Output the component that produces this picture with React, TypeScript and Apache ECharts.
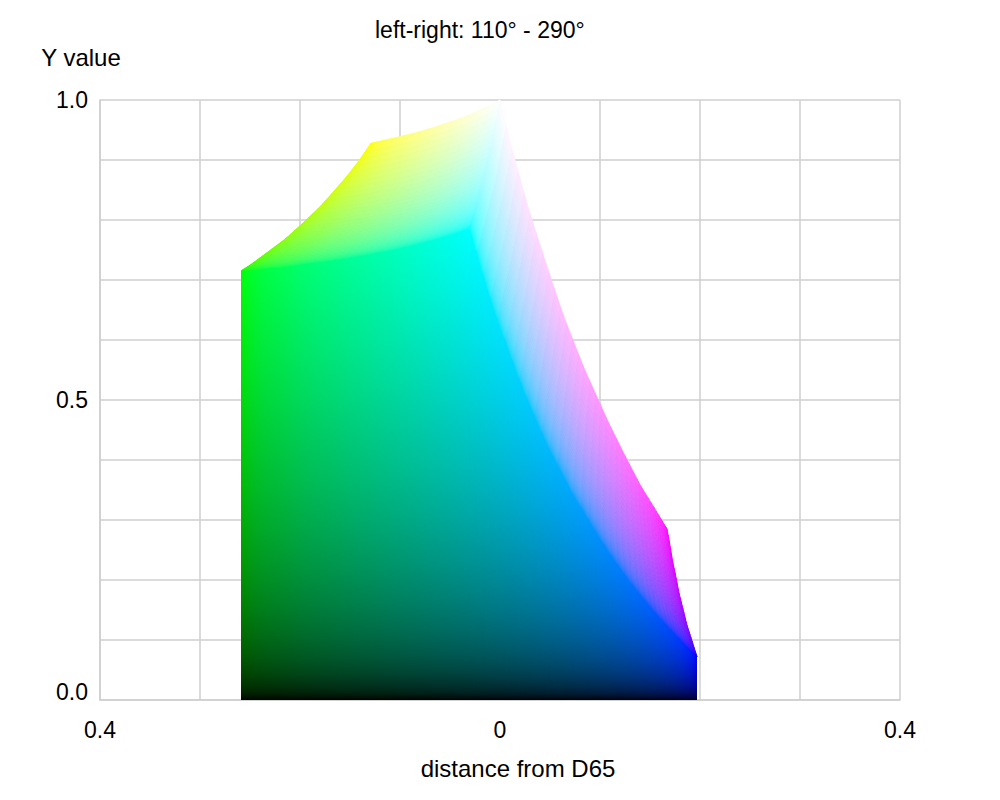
import React, { useEffect, useRef } from 'react';
import * as echarts from 'echarts';

const FONT = '"Liberation Sans", Arial, Helvetica, sans-serif';

const TITLE = 'left-right: 110° - 290°';
const X_NAME = 'distance from D65';
const Y_NAME = 'Y value';
const X_TICKS = [-0.4, 0, 0.4];
const X_TICK_LABELS = ['0.4', '0', '0.4'];
const Y_TICKS = [0, 0.5, 1];
const Y_TICK_LABELS = ['0.0', '0.5', '1.0'];

// Corners of the visible gamut faces, [distance, Y]
const GREEN = [-0.259, 0.715];
const YELLOW = [-0.129, 0.928];
const WHITE = [0, 1];
const CYAN = [-0.03, 0.787];
const MAGENTA = [0.167, 0.285];
const BLUE = [0.197, 0.072];

// Outline and edge curves, [distance, Y]
const edgeGreenYellow = [
  [-0.259, 0.715], [-0.249, 0.726], [-0.24, 0.737], [-0.215, 0.768], [-0.197, 0.795],
  [-0.18, 0.822], [-0.166, 0.848], [-0.152, 0.875], [-0.14, 0.901], [-0.129, 0.928],
];
const edgeYellowWhite = [
  [-0.129, 0.928], [-0.105, 0.937], [-0.083, 0.946], [-0.065, 0.955], [-0.049, 0.964],
  [-0.034, 0.973], [-0.022, 0.982], [-0.01, 0.991], [0, 1],
];
const edgeMagentaWhite = [
  [0.167, 0.285], [0.154, 0.321], [0.141, 0.356], [0.124, 0.41], [0.108, 0.464],
  [0.084, 0.553], [0.063, 0.642], [0.045, 0.732], [0.028, 0.821], [0.013, 0.911], [0, 1],
];
const edgeBlueMagenta = [
  [0.197, 0.072], [0.192, 0.099], [0.187, 0.125], [0.183, 0.152], [0.179, 0.179],
  [0.176, 0.205], [0.1725, 0.232], [0.17, 0.258], [0.167, 0.285],
];
const ridgeGreenCyan = [
  [-0.259, 0.715], [-0.248, 0.717], [-0.237, 0.719], [-0.217, 0.722], [-0.191, 0.728],
  [-0.167, 0.733], [-0.134, 0.742], [-0.106, 0.751], [-0.083, 0.76], [-0.063, 0.769],
  [-0.045, 0.778], [-0.03, 0.787],
];
const ridgeBlueCyan = [
  [0.197, 0.072], [0.188, 0.087], [0.176, 0.108], [0.156, 0.144], [0.13, 0.197],
  [0.107, 0.251], [0.074, 0.34], [0.046, 0.43], [0.023, 0.519], [0.003, 0.609],
  [-0.008, 0.662], [-0.018, 0.716], [-0.024, 0.752], [-0.03, 0.787],
];
const junctionCyanWhite = [
  [-0.03, 0.787], [-0.025, 0.814], [-0.021, 0.841], [-0.017, 0.867], [-0.013, 0.894],
  [-0.0095, 0.92], [-0.006, 0.947], [-0.003, 0.973], [0, 1],
];

type Pt = number[];

const clamp01 = (t: number) => Math.max(0, Math.min(1, t));
const enc = (t: number) => {
  t = clamp01(t);
  return t <= 0.0031308 ? 12.92 * t : 1.055 * Math.pow(t, 1 / 2.4) - 0.055;
};
const dec = (u: number) => (u <= 0.04045 ? u / 12.92 : Math.pow((u + 0.055) / 1.055, 2.4));
const rgb = (r: number, g: number, b: number) =>
  `rgb(${Math.round(clamp01(r) * 255)},${Math.round(clamp01(g) * 255)},${Math.round(clamp01(b) * 255)})`;

// curve parametrised by its Y value (linear in the RGB channel along the edge)
function makeCurve(pts: Pt[]) {
  const y0 = pts[0][1];
  const y1 = pts[pts.length - 1][1];
  const ts = pts.map((p) => (p[1] - y0) / (y1 - y0));
  return (t: number): Pt => {
    if (t <= 0) return pts[0];
    if (t >= 1) return pts[pts.length - 1];
    let i = 0;
    while (i < ts.length - 2 && ts[i + 1] < t) i++;
    const f = (t - ts[i]) / (ts[i + 1] - ts[i] || 1);
    return [pts[i][0] + f * (pts[i + 1][0] - pts[i][0]), pts[i][1] + f * (pts[i + 1][1] - pts[i][1])];
  };
}

function coons(
  cu0: (t: number) => Pt, cu1: (t: number) => Pt, cv0: (t: number) => Pt, cv1: (t: number) => Pt,
  p00: Pt, p10: Pt, p01: Pt, p11: Pt,
) {
  return (u: number, v: number): Pt => {
    const a = cu0(u), b = cu1(u), c = cv0(v), d = cv1(v);
    const out = [0, 0];
    for (let k = 0; k < 2; k++) {
      out[k] =
        (1 - v) * a[k] + v * b[k] + (1 - u) * c[k] + u * d[k] -
        ((1 - u) * (1 - v) * p00[k] + u * (1 - v) * p10[k] + (1 - u) * v * p01[k] + u * v * p11[k]);
    }
    return out;
  };
}

function ridgeY(ridge: Pt[], d: number) {
  if (d <= ridge[0][0]) return ridge[0][1];
  for (let i = 0; i < ridge.length - 1; i++) {
    const a = ridge[i], b = ridge[i + 1];
    if (d <= b[0]) {
      const f = (d - a[0]) / (b[0] - a[0] || 1);
      return a[1] + f * (b[1] - a[1]);
    }
  }
  return ridge[ridge.length - 1][1];
}

const STOP_OFFSETS = [0, 0.1, 0.2, 0.3, 0.4, 0.5, 0.6, 0.7, 0.78, 0.85, 0.9, 0.94, 0.97, 0.985, 0.995, 1];

function renderGamut(_params: any, api: any) {
  const children: any[] = [];
  const C = (p: Pt) => api.coord(p) as number[];

  // Face R = 0 (black -> green/cyan/blue), vertical columns
  const ridge = [...ridgeGreenCyan, ...ridgeBlueCyan.slice(0, -1).reverse()];
  const start = GREEN[0];
  const end = BLUE[0];
  const n = Math.round((end - start) / 0.002);
  for (let i = 0; i < n; i++) {
    const da = start + ((end - start) * i) / n;
    const db = start + ((end - start) * (i + 1)) / n;
    const dm = (da + db) / 2;
    const ya = ridgeY(ridge, da);
    const yb = ridgeY(ridge, db);
    const ym = ridgeY(ridge, dm);
    let G = 1, B = 1;
    if (dm < CYAN[0]) B = clamp01((ym - GREEN[1]) / (CYAN[1] - GREEN[1]));
    else G = clamp01((ym - BLUE[1]) / (CYAN[1] - BLUE[1]));
    const top = Math.max(ya, yb);
    const stops = STOP_OFFSETS.map((o) => {
      const s = Math.min(1, (top * (1 - o)) / ym);
      return { offset: o, color: rgb(0, enc(s * G), enc(s * B)) };
    });
    const p0 = C([da, 0]);
    const p1 = C([db, 0]);
    const p2 = C([db, yb]);
    const p3 = C([da, ya]);
    const ext = i < n - 1 ? 0.5 : 0;
    children.push({
      type: 'polygon',
      silent: true,
      shape: { points: [p0, [p1[0] + ext, p1[1]], [p2[0] + ext, p2[1]], p3] },
      style: { fill: { type: 'linear', x: 0, y: 0, x2: 0, y2: 1, colorStops: stops } },
    });
  }

  const N = 40;
  const drawCap = (patch: (u: number, v: number) => Pt, colorFn: (u: number, v: number) => string) => {
    const grid: number[][][] = [];
    for (let i = 0; i <= N; i++) {
      const row: number[][] = [];
      for (let j = 0; j <= N; j++) row.push(C(patch(dec(i / N), dec(j / N))));
      grid.push(row);
    }
    for (let i = 0; i < N; i++) {
      for (let j = 0; j < N; j++) {
        const col = colorFn((i + 0.5) / N, (j + 0.5) / N);
        children.push({
          type: 'polygon',
          silent: true,
          shape: { points: [grid[i][j], grid[i + 1][j], grid[i + 1][j + 1], grid[i][j + 1]] },
          style: { fill: col, stroke: col, lineWidth: 0.8 },
        });
      }
    }
  };

  // Face G = 1 (green, yellow, white, cyan)
  const leftCap = coons(
    makeCurve(edgeGreenYellow), makeCurve(junctionCyanWhite),
    makeCurve(ridgeGreenCyan), makeCurve(edgeYellowWhite),
    GREEN, YELLOW, CYAN, WHITE,
  );
  drawCap(leftCap, (u, v) => rgb(u, 1, v));

  // Face B = 1 (blue, magenta, white, cyan)
  const rightCap = coons(
    makeCurve(edgeBlueMagenta), makeCurve(junctionCyanWhite),
    makeCurve(ridgeBlueCyan), makeCurve(edgeMagentaWhite),
    BLUE, MAGENTA, CYAN, WHITE,
  );
  drawCap(rightCap, (u, v) => rgb(u, v, 1));

  return { type: 'group', children };
}

const GRID_COLOR = '#cfcfcf';

const tickLabel = (ticks: number[], labels: string[]) => (v: number) => {
  const i = ticks.findIndex((t) => Math.abs(t - v) < 1e-6);
  return i >= 0 ? labels[i] : '';
};

const option: any = {
  animation: false,
  backgroundColor: '#ffffff',
  title: {
    text: TITLE,
    left: 375,
    top: 18,
    padding: 0,
    textStyle: { fontSize: 23, fontWeight: 'normal', color: '#000', fontFamily: FONT },
  },
  grid: { left: 100, top: 100, width: 800, height: 600, containLabel: false, outerBoundsMode: 'none' },
  xAxis: {
    type: 'value',
    min: -0.4,
    max: 0.4,
    interval: 0.1,
    axisLine: { show: true, onZero: false, lineStyle: { color: GRID_COLOR, width: 1.5 } },
    axisTick: { show: false },
    splitLine: { show: true, lineStyle: { color: GRID_COLOR, width: 1.5 } },
    axisLabel: {
      formatter: tickLabel(X_TICKS, X_TICK_LABELS),
      margin: 18,
      fontSize: 23,
      color: '#000',
      fontFamily: FONT,
      showMinLabel: true,
      showMaxLabel: true,
      hideOverlap: false,
    },
    name: X_NAME,
    nameLocation: 'middle',
    nameGap: 56,
    nameTextStyle: {
      fontSize: 24, color: '#000', fontFamily: FONT, align: 'center', verticalAlign: 'top', padding: [0, 0, 0, 36],
    },
  },
  yAxis: {
    type: 'value',
    min: 0,
    max: 1,
    interval: 0.1,
    axisLine: { show: true, onZero: false, lineStyle: { color: GRID_COLOR, width: 1.5 } },
    axisTick: { show: false },
    splitLine: { show: true, lineStyle: { color: GRID_COLOR, width: 1.5 } },
    axisLabel: {
      formatter: (v: number) => {
        const s = tickLabel(Y_TICKS, Y_TICK_LABELS)(v);
        if (s && Math.abs(v) < 1e-6) return '{m|' + s + '}';
        return s;
      },
      margin: 12,
      fontSize: 23,
      color: '#000',
      fontFamily: FONT,
      showMinLabel: true,
      showMaxLabel: true,
      hideOverlap: false,
      rich: { m: { fontSize: 23, color: '#000', fontFamily: FONT, padding: [0, 0, 16, 0] } },
    },
    name: Y_NAME,
    nameLocation: 'end',
    nameGap: 31,
    nameTextStyle: {
      fontSize: 24, color: '#000', fontFamily: FONT, align: 'center', verticalAlign: 'bottom', padding: [0, 38, 0, 0],
    },
  },
  series: [
    {
      type: 'custom',
      name: 'sRGB gamut',
      renderItem: renderGamut,
      data: [[0, 0]],
      clip: false,
      silent: true,
      z: 3,
    },
  ],
};

export default function App() {
  const ref = useRef<HTMLDivElement>(null);
  useEffect(() => {
    const chart = echarts.init(ref.current as HTMLDivElement, null, { renderer: 'svg' });
    chart.setOption(option);
    return () => chart.dispose();
  }, []);
  return (
    <div
      ref={ref}
      style={{ position: 'fixed', left: 0, top: 0, width: 1000, height: 800, background: '#ffffff' }}
    />
  );
}
